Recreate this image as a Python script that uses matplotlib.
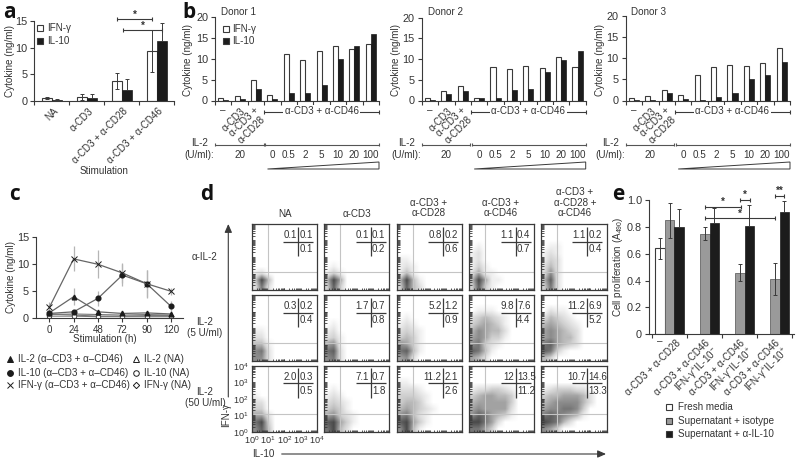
import numpy as np
import matplotlib
matplotlib.use('Agg')
import matplotlib.pyplot as plt
from matplotlib.patches import Polygon, Rectangle
from matplotlib.colors import LinearSegmentedColormap

plt.rcParams['font.family'] = ['Liberation Sans', 'DejaVu Sans']
plt.rcParams['mathtext.default'] = 'regular'

DARK = '#3a3a3a'
TXT = '#333333'
BLACK = '#1c1c1c'
GRAY = '#9a9a9a'
FS = 7.1

# panel a
a_labels = ['NA', 'α-CD3', 'α-CD3 + α-CD28', 'α-CD3 + α-CD46']
a_ifn = [0.6, 0.75, 3.8, 9.4]
a_il10 = [0.2, 0.5, 2.1, 11.2]
a_ifn_err = [0.15, 0.5, 1.5, 3.9]
a_il10_err = [0.15, 0.75, 2.1, 3.5]

# panel b
il2_doses = ['0', '0.5', '2', '5', '10', '20', '100']
b1_ifn = [0.5, 1.0, 4.9, 1.2, 11.0, 9.7, 11.9, 12.9, 12.3, 13.4]
b1_il10 = [0.1, 0.4, 2.7, 0.3, 1.9, 1.7, 3.6, 9.9, 12.9, 15.9]
b2_ifn = [0.5, 2.3, 3.4, 0.7, 8.1, 7.5, 8.3, 7.8, 10.5, 8.0]
b2_il10 = [0.05, 1.5, 2.3, 0.7, 0.6, 2.5, 2.7, 7.0, 9.8, 11.9]
b3_ifn = [0.5, 1.0, 2.6, 1.2, 6.0, 8.0, 8.5, 8.1, 8.9, 12.4]
b3_il10 = [0.05, 0.2, 1.8, 0.4, 0.2, 0.9, 1.7, 5.2, 6.1, 9.2]

# panel c
c_times = ['0', '24', '48', '72', '90', '120']
c_il2_s = [1.0, 4.0, 1.2, 0.9, 1.0, 0.8]
c_il10_s = [0.9, 1.2, 3.7, 8.0, 6.4, 2.2]
c_ifn_s = [2.0, 11.0, 10.0, 8.4, 6.4, 5.0]
c_il2_na = [0.7, 0.8, 0.7, 0.6, 0.7, 0.6]
c_il10_na = [0.4, 0.4, 0.3, 0.3, 0.3, 0.3]
c_ifn_na = [0.8, 0.6, 0.4, 0.4, 0.5, 0.5]
c_il2_err = [0.2, 1.6, 0.4, 0.2, 0.3, 0.2]
c_il10_err = [0.2, 0.4, 1.4, 2.0, 2.5, 1.0]
c_ifn_err = [1.0, 2.3, 2.6, 1.9, 2.6, 0.6]

# panel d
d_cols = ['NA', 'α-CD3', 'α-CD3 +\nα-CD28', 'α-CD3 +\nα-CD46', 'α-CD3 +\nα-CD28 +\nα-CD46']
d_rows = ['α-IL-2', 'IL-2\n(5 U/ml)', 'IL-2\n(50 U/ml)']
d_pct = [
    [('0.1', '0.1', '0.1'), ('0.1', '0.1', '0.2'), ('0.8', '0.2', '0.6'), ('1.1', '0.4', '0.7'), ('1.1', '0.2', '0.4')],
    [('0.3', '0.2', '0.4'), ('1.7', '0.7', '0.8'), ('5.2', '1.2', '0.9'), ('9.8', '7.6', '4.4'), ('11.2', '6.9', '5.2')],
    [('2.0', '0.3', '0.5'), ('7.1', '0.7', '1.8'), ('11.2', '2.1', '2.6'), ('12', '13.5', '11.2'), ('10.7', '14.6', '13.3')],
]
E = '0000000000'
# dot density read by eye, rows top to bottom, 0 = empty, 9 = darkest
d_density = [
    [
        [E, E, E, E, E, E, E, '1200000000', '3940000000', '2720000000'],
        [E, E, E, E, E, E, '0100000000', '1310000000', '4950000000', '3830000000'],
        [E, E, E, E, E, '1100000000', '1210000000', '1410000000', '4941000000', '3842000000'],
        [E, E, E, '0100000000', '1200000000', '1200000000', '1310000000', '2511000000', '4951100000', '3831000000'],
        [E, E, E, '0110000000', '1210000000', '1320000000', '2420000000', '2620000000', '4820000000', '3720000000'],
    ],
    [
        [E, E, E, E, E, '1100000000', '2200000000', '4410000000', '6720000000', '6620000000'],
        [E, E, E, E, '0100000000', '1200000000', '2310000000', '5610000000', '7820000000', '6720000000'],
        [E, E, E, '0100000000', '1210000000', '2321000000', '3431000000', '6531000000', '7841000000', '5620000000'],
        [E, E, '0111000000', '2343210000', '3454310000', '4654420000', '5653310000', '6732100000', '8741000000', '5420000000'],
        [E, E, '0211000000', '2432100000', '4543210000', '5654320000', '5654420000', '7854320000', '8731000000', '4300000000'],
    ],
    [
        [E, E, E, E, '1000000000', '2200000000', '3300000000', '5520000000', '7930000000', '6840000000'],
        [E, E, E, '0100000000', '1210000000', '2321000000', '3431000000', '5632100000', '8953100000', '7942000000'],
        [E, E, '1100000000', '2221000000', '3332100000', '3443100000', '4543210000', '6742100000', '8953100000', '6941000000'],
        [E, E, E, '1223321000', '3455443000', '4555553000', '5655552000', '6875431000', '9975200000', '7753000000'],
        [E, E, E, '1233322000', '3445554200', '4566664200', '5667763000', '7876541000', '9874200000', '6530000000'],
    ],
]

# panel e
e_labels = ['α-CD3 + α-CD28', 'α-CD3 + α-CD46\nIFN-γ$^{+}$IL-10$^{-}$',
            'α-CD3 + α-CD46\nIFN-γ$^{-}$IL-10$^{+}$', 'α-CD3 + α-CD46\nIFN-γ$^{+}$IL-10$^{+}$']
e_fresh = [0.64]
e_fresh_err = [0.08]
e_iso = [0.85, 0.75, 0.46, 0.41]
e_iso_err = [0.13, 0.05, 0.065, 0.12]
e_anti = [0.80, 0.83, 0.81, 0.91]
e_anti_err = [0.13, 0.11, 0.15, 0.08]

fig = plt.figure(figsize=(8, 4.63), dpi=100)


def add_px(l, t, r, b):
    return fig.add_axes([l / 800, 1 - b / 463, (r - l) / 800, (b - t) / 463])


def clean(ax):
    for s in ['top', 'right']:
        ax.spines[s].set_visible(False)
    for s in ['left', 'bottom']:
        ax.spines[s].set_color(DARK)
        ax.spines[s].set_linewidth(0.8)
    ax.tick_params(colors=DARK, labelcolor=TXT, labelsize=7.8, length=3, width=0.8, pad=2)
    ax.patch.set_alpha(0)


over = fig.add_axes([0, 0, 1, 1], zorder=10)
over.set_xlim(0, 800)
over.set_ylim(463, 0)
over.axis('off')


def T(x, y, s, size=FS, ha='center', va='center', **kw):
    over.text(x, y, s, fontsize=size, ha=ha, va=va, color=TXT, **kw)


def rot(x, y, s, size=FS, **kw):
    over.text(x, y, s, fontsize=size, ha='right', va='top', rotation=45,
              rotation_mode='anchor', color=TXT, linespacing=1.05, **kw)


def L(xs, ys, lw=0.8, c=DARK):
    over.plot(xs, ys, color=c, lw=lw, solid_capstyle='butt')


def bracket(x0, x1, y, stars, ystar=None, cap=2):
    L([x0, x1], [y, y])
    L([x0, x0], [y - cap, y + cap])
    L([x1, x1], [y - cap, y + cap])
    T((x0 + x1) / 2, (y - 4.5) if ystar is None else ystar, stars, size=7, fontweight='bold')


def swatch(x, y, c):
    over.add_patch(Rectangle((x - 3, y - 3), 6, 6, fc=c, ec=DARK, lw=0.8))


# panel letters
for s, x, y in [('a', 9, 13), ('b', 189, 13), ('c', 14, 195), ('d', 207, 194), ('e', 618, 195)]:
    over.text(x, y, s, fontsize=15, fontweight='bold', family='Open Sans', color='#111111', ha='center', va='center')

# ---- a
ax = add_px(34.3, 21, 174.5, 101)
clean(ax)
x = np.arange(4)
w = 0.277
ax.bar(x - w / 2, a_ifn, w, color='white', edgecolor=DARK, lw=0.8)
ax.bar(x + w / 2, a_il10, w, color=BLACK, edgecolor=BLACK, lw=0.5)
ax.errorbar(x - w / 2, a_ifn, yerr=a_ifn_err, fmt='none', ecolor=DARK, elinewidth=0.7, capsize=1.5, capthick=0.7)
ax.errorbar(x + w / 2, a_il10, yerr=[[0] * 4, a_il10_err], fmt='none', ecolor=DARK, elinewidth=0.7, capsize=1.5, capthick=0.7)
ax.set_xlim(-0.5, 3.5)
ax.set_ylim(0, 15)
ax.set_yticks([0, 5, 10, 15])
ax.set_xticks(np.arange(-0.5, 4))
ax.set_xticklabels([])
T(10, 61, 'Cytokine (ng/ml)', rotation=90)
for i, s in enumerate(a_labels):
    rot(53 + 35 * i, 106, s)
T(104, 171, 'Stimulation')
swatch(39.7, 27.7, 'white')
swatch(39.7, 40.7, BLACK)
T(46.7, 27.7, 'IFN-γ', ha='left')
T(46.7, 40.7, 'IL-10', ha='left')
bracket(116.7, 152.3, 19.3, '*')
bracket(123.3, 161.7, 30.3, '*')


# ---- b
def panel_b(l, r, t, ifn, il10, donor, ylab_x, donor_x):
    ax = add_px(l, t, r, 100.5)
    clean(ax)
    x = np.arange(10)
    w = 0.305
    ax.bar(x - w / 2, ifn, w, color='white', edgecolor=DARK, lw=0.8)
    ax.bar(x + w / 2, il10, w, color=BLACK, edgecolor=BLACK, lw=0.5)
    ax.set_xlim(-0.5, 9.5)
    ax.set_ylim(0, 20)
    ax.set_yticks([0, 5, 10, 15, 20])
    ax.set_xticks(np.arange(-0.5, 10))
    ax.set_xticklabels([])
    T(donor_x, 11.7, donor, ha='left')
    T(ylab_x, 60, 'Cytokine (ng/ml)', rotation=90)
    u = (r - l) / 10
    cx = [l + u * (i + 0.5) for i in range(10)]
    # stimulation labels
    T(cx[0], 110, '–')
    rot(cx[1] + 1, 106, 'α-CD3')
    rot(cx[2] - 2, 105.5, 'α-CD3 +\nα-CD28', ma='center')
    sx = l + 3 * u
    L([sx, r], [111.7, 111.7])
    L([sx, sx], [109.7, 113.7])
    L([r, r], [109.7, 113.7])
    T((sx + r) / 2, 111.5, 'α-CD3 + α-CD46', bbox=dict(fc='white', ec='none', pad=1.2))
    # IL-2 row
    T(l - 15.5, 143.5, 'IL-2')
    T(l - 15.5, 154.5, '(U/ml):')
    L([l, sx - 0.7], [144.7, 144.7], c='#555555')
    L([sx + 0.7, r], [144.7, 144.7], c='#555555')
    for xx in [l, sx - 0.7, sx + 0.7, r]:
        L([xx, xx], [143, 146.4], c='#555555')
    T(cx[1], 154.5, '20')
    for i, s in enumerate(il2_doses):
        T(cx[i + 3], 154.5, s)
    over.add_patch(Polygon([(l + 52.5, 169), (r, 162), (r, 169)], closed=True, fc='white', ec=DARK, lw=0.7))


panel_b(215, 379, 16.7, b1_ifn, b1_il10, 'Donor 1', 188, 220.7)
panel_b(421.7, 585.7, 17.7, b2_ifn, b2_il10, 'Donor 2', 396, 428)
panel_b(625.7, 790, 16, b3_ifn, b3_il10, 'Donor 3', 600, 631)
swatch(225.7, 28.5, 'white')
swatch(225.7, 40.5, BLACK)
T(232, 28.5, 'IFN-γ', ha='left')
T(232, 40.5, 'IL-10', ha='left')

# ---- c
ax = add_px(36, 237.3, 183, 318.3)
clean(ax)
t = np.arange(6)
for y, e in [(c_ifn_s, c_ifn_err), (c_il10_s, c_il10_err), (c_il2_s, c_il2_err)]:
    ax.errorbar(t, y, yerr=e, fmt='none', ecolor='#b5b5b5', elinewidth=0.9, capsize=0)
na = dict(color='#777777', lw=0.8, mfc='white', mec=DARK, mew=0.6, ms=3.2)
ax.plot(t, c_ifn_na, marker='D', **{**na, 'ms': 2.6})
ax.plot(t, c_il2_na, marker='^', **na)
ax.plot(t, c_il10_na, marker='o', **na)
st = dict(color='#666666', lw=0.9, mec=BLACK, mfc=BLACK, ms=3.4)
ax.plot(t, c_il2_s, marker='^', **st)
ax.plot(t, c_il10_s, marker='o', **st)
ax.plot(t, c_ifn_s, marker='x', color='#666666', lw=0.9, mec=BLACK, mew=0.7, ms=4.2)
ax.set_xlim(-0.546, 5.49)
ax.set_ylim(0, 15)
ax.set_yticks([0, 5, 10, 15])
ax.set_xticks(t)
ax.set_xticklabels(c_times, fontsize=7)
T(11, 277, 'Cytokine (ng/ml)', rotation=90)
T(105, 339.5, 'Stimulation (h)')
mk = dict(ls='none', mec=BLACK, mew=0.7)
over.plot(10, 359, marker='^', mfc=BLACK, ms=4.2, **mk)
over.plot(10, 372.7, marker='o', mfc=BLACK, ms=4.2, **mk)
over.plot(10, 385, marker='x', ms=4.5, **mk)
over.plot(136, 359, marker='^', mfc='white', ms=4.2, **mk)
over.plot(136, 372.7, marker='o', mfc='white', ms=4, **mk)
over.plot(136, 385, marker='D', mfc='white', ms=3.2, **mk)
T(18, 359, 'IL-2 (α–CD3 + α–CD46)', ha='left')
T(18, 372.7, 'IL-10 (α–CD3 + α–CD46)', ha='left')
T(18, 385, 'IFN-γ (α–CD3 + α–CD46)', ha='left')
T(143.7, 359, 'IL-2 (NA)', ha='left')
T(143.7, 372.7, 'IL-10 (NA)', ha='left')
T(143.7, 385, 'IFN-γ (NA)', ha='left')

# ---- d
col_l = [251.7, 324, 396.7, 469, 540.7]
col_r = [317, 389.3, 462.3, 534, 606.7]
row_t = [224, 295, 365.7]
row_b = [290, 361, 431.7]
dots = LinearSegmentedColormap.from_list('dots', ['#ffffff', '#d0d0d0', '#8c8c8c', '#4a4a4a'])
log_ticks = [np.log10(k) + d for d in range(4) for k in range(1, 10)] + [4]
for r in range(3):
    for c in range(5):
        ax = add_px(col_l[c], row_t[r], col_r[c], row_b[r])
        grid = np.array([[int(ch) for ch in row] for row in d_density[r][c]])
        ax.imshow(grid, extent=(0, 4, 0, 4), origin='upper', aspect='auto', cmap=dots, vmin=0, vmax=9, interpolation='bilinear')
        ax.axvline(1, color='#c4c4c4', lw=0.8)
        ax.axhline(1.1, color='#c4c4c4', lw=0.8)
        for s in ax.spines.values():
            s.set_color(DARK)
            s.set_linewidth(0.9)
        ax.set_xlim(0, 4)
        ax.set_ylim(0, 4)
        ax.set_xticks(log_ticks)
        ax.set_yticks(log_ticks)
        ax.tick_params(direction='in', length=1.8, width=0.6, colors=DARK, pad=1.5)
        if r == 2 and c == 0:
            ax.set_xticks([0, 1, 2, 3, 4], ['$10^{%d}$' % k for k in range(5)], fontsize=6.6)
            ax.set_yticks([0, 1, 2, 3, 4], ['$10^{%d}$' % k for k in range(5)], fontsize=6.6)
            ax.set_xticks(log_ticks, minor=True)
            ax.set_yticks(log_ticks, minor=True)
            ax.tick_params(which='both', direction='in', length=1.8, width=0.6, colors=DARK, labelcolor=TXT, pad=2)
        else:
            ax.set_xticklabels([])
            ax.set_yticklabels([])
        # quadrant cross with percentages
        lft, rgt, low = d_pct[r][c]
        vx = col_l[c] + 46.5
        hy = row_t[r] + 17.7
        L([vx - 15, vx + 15], [hy, hy], lw=0.9)
        L([vx, vx], [hy - 15, hy + 14.5], lw=0.9)
        T(vx - 1.5, hy - 6.5, lft, ha='right', size=7)
        T(vx + 1.5, hy - 6.5, rgt, ha='left', size=7)
        T(vx + 1.5, hy + 7.5, low, ha='left', size=7)
T(285, 214, d_cols[0])
T(357, 214, d_cols[1])
T(429, 208, d_cols[2], linespacing=1.1)
T(501, 208, d_cols[3], linespacing=1.1)
T(575, 202.5, d_cols[4], linespacing=1.1)
T(205, 257, d_rows[0])
T(205, 327.5, d_rows[1], linespacing=1.2)
T(205, 397.5, d_rows[2], linespacing=1.2)
over.annotate('', xy=(228.3, 224), xytext=(228.3, 397),
              arrowprops=dict(arrowstyle='-|>,head_width=0.22,head_length=0.5', color=DARK, lw=0.8, shrinkA=0, shrinkB=0))
over.annotate('', xy=(606, 454), xytext=(281.7, 454),
              arrowprops=dict(arrowstyle='-|>,head_width=0.22,head_length=0.5', color=DARK, lw=0.8, shrinkA=0, shrinkB=0))
T(226.5, 415, 'IFN-γ', rotation=90)
T(263, 454, 'IL-10')

# ---- e
ax = add_px(649, 200, 794, 334.3)
clean(ax)
x = np.arange(4)
w = 0.275
err = dict(fmt='none', ecolor=DARK, elinewidth=0.7, capsize=1.5, capthick=0.7)
ax.bar([-w], e_fresh, w, color='white', edgecolor=DARK, lw=0.8)
ax.bar(x, e_iso, w, color=GRAY, edgecolor='#666666', lw=0.6)
ax.bar(x + w, e_anti, w, color=BLACK, edgecolor=BLACK, lw=0.5)
ax.errorbar([-w], e_fresh, yerr=e_fresh_err, **err)
ax.errorbar(x, e_iso, yerr=e_iso_err, **err)
ax.errorbar(x + w, e_anti, yerr=[[0] * 4, e_anti_err], **err)
ax.set_xlim(-0.59, 3.55)
ax.set_ylim(0, 1.0)
ax.set_yticks([0, 0.2, 0.4, 0.6, 0.8, 1.0], ['0', '0.2', '0.4', '0.6', '0.8', '1.0'])
ax.set_xticks(np.arange(-0.5, 4))
ax.set_xticklabels([])
T(618, 267, 'Cell proliferation ($A_{490}$)', rotation=90)
T(660, 341, '–')
e_anchor = [676, 705, 740, 775]
for i, s in enumerate(e_labels):
    rot(e_anchor[i], 338, s, ma='right')
for y, c, s in [(407.3, 'white', 'Fresh media'), (420.7, GRAY, 'Supernatant + isotype'), (433.7, BLACK, 'Supernatant + α-IL-10')]:
    swatch(669.3, y, c)
    T(677.7, y, s, ha='left')
bracket(705, 740.7, 206.7, '*', ystar=202)
bracket(740, 750, 200, '*', ystar=195)
bracket(705, 775, 218.3, '*', ystar=214)
bracket(775, 784, 196, '**', ystar=191)

fig.savefig('out.png', dpi=100)
